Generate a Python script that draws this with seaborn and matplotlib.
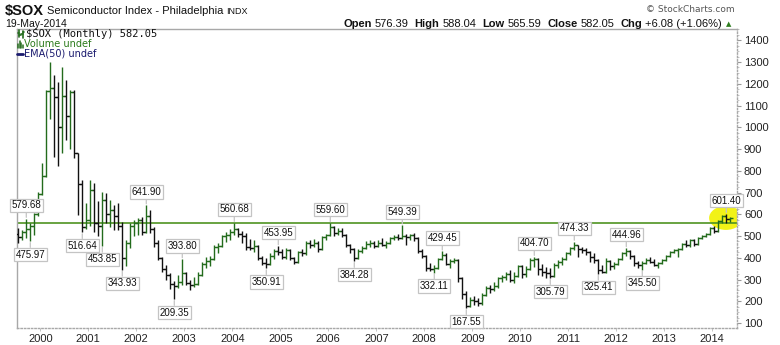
import numpy as np
import pandas as pd
import matplotlib
matplotlib.use("Agg")
import matplotlib.pyplot as plt
import seaborn as sns
from matplotlib.patches import Ellipse
from matplotlib.lines import Line2D
from matplotlib.ticker import MultipleLocator

# ---------------- data (monthly OHLC, Jul-1999 .. May-2014) ----------------
start_month = "1999-07"
opens = [
    510, 495, 520, 530, 545, 600,
    695, 775, 1165, 1180, 1140, 1000, 1145, 1050, 1160, 880, 740, 540,
    575, 710, 560, 545, 665, 600, 620, 590, 545, 400, 470, 545,
    560, 575, 520, 590, 530, 470, 400, 350, 320, 280, 270, 290,
    330, 285, 275, 280, 320, 370, 385, 395, 450, 455, 500, 505,
    520, 530, 510, 500, 450, 445, 455, 400, 375, 370, 410, 430,
    425, 405, 435, 400, 380, 425, 420, 470, 460, 470, 440, 495,
    505, 540, 515, 525, 505, 460, 440, 400, 430, 445, 465, 470,
    455, 470, 460, 470, 490, 495, 490, 500, 495, 505, 490, 430,
    410, 355, 350, 355, 395, 415, 370, 385, 390, 305, 235, 180,
    205, 200, 190, 230, 260, 255, 270, 305, 310, 325, 300, 315,
    360, 325, 350, 390, 395, 350, 335, 330, 315, 365, 380, 395,
    420, 445, 460, 440, 435, 425, 405, 390, 345, 335, 385, 360,
    370, 395, 420, 430, 410, 375, 365, 375, 390, 380, 365, 375,
    390, 410, 425, 435, 440, 465, 460, 480, 465, 490, 500, 510,
    535, 525, 570, 590, 576.39,
]
highs = [
    536, 528, 579.68, 560, 605, 704,
    835, 1172, 1302, 1241, 1210, 1279, 1218, 1172, 1172, 880, 758, 650,
    758, 743, 660, 704, 697, 666, 643, 650, 566, 480, 560, 575,
    585, 589, 641.90, 620, 540, 480, 405, 367, 330, 292, 320, 393.80,
    335, 300, 310, 336, 382, 405, 410, 459, 470, 505, 520, 530,
    560.68, 535, 525, 513, 485, 480, 460, 410, 400, 420, 440, 453.95,
    440, 445, 440, 405, 430, 440, 475, 480, 485, 475, 500, 510,
    559.60, 545, 535, 535, 510, 465, 445, 440, 455, 475, 480, 475,
    480, 490, 475, 495, 505, 510, 549.39, 510, 510, 515, 495, 440,
    415, 375, 365, 400, 429.45, 420, 395, 400, 395, 310, 245, 221,
    225, 215, 240, 270, 275, 290, 310, 320, 335, 344, 336, 367,
    367, 360, 398, 404.70, 400, 370, 359, 352, 374, 390, 405, 428,
    451, 474.33, 460, 450, 444, 430, 421, 395, 367, 398, 390, 380,
    400, 425, 444.96, 435, 415, 385, 385, 400, 405, 395, 380, 395,
    415, 430, 440, 445, 470, 482, 485, 485, 495, 505, 515, 540,
    545, 575, 595, 601.40, 588.04,
]
lows = [
    467, 482, 492, 475.97, 505, 590,
    690, 770, 1040, 865, 820, 880, 940, 900, 857, 597, 516.64, 530,
    545, 520, 500, 453.85, 559, 543, 528, 528, 343.93, 360, 445, 500,
    505, 505, 515, 515, 450, 390, 336, 298, 255, 209.35, 262, 275,
    275, 252, 265, 275, 318, 352, 360, 390, 421, 451, 474, 482,
    505, 497, 470, 436, 436, 425, 390, 365, 350.91, 365, 395, 415,
    395, 395, 390, 370, 375, 410, 415, 445, 450, 425, 435, 480,
    500, 500, 505, 495, 450, 420, 384.28, 395, 420, 440, 450, 445,
    450, 455, 445, 465, 480, 480, 485, 460, 480, 475, 420, 400,
    340, 340, 332.11, 350, 390, 365, 355, 375, 290, 210, 167.55, 175,
    185, 180, 185, 225, 240, 245, 260, 290, 298, 290, 283, 313,
    306, 310, 344, 359, 321, 315, 306, 305.79, 312, 352, 367, 390,
    413, 436, 405, 421, 413, 382, 375, 325.41, 328, 330, 345, 350,
    365, 390, 410, 395, 360, 355, 345.50, 370, 375, 360, 355, 370,
    385, 405, 420, 405, 435, 450, 448, 455, 460, 485, 495, 505,
    515, 520, 560, 560, 565.59,
]
closes = [
    495, 520, 530, 545, 600, 695,
    775, 1165, 1180, 1140, 1000, 1145, 1050, 1160, 880, 740, 540, 575,
    710, 560, 545, 665, 600, 620, 590, 545, 400, 470, 545, 560,
    575, 520, 590, 530, 470, 400, 350, 320, 280, 270, 290, 330,
    285, 275, 280, 320, 370, 385, 395, 450, 455, 500, 505, 520,
    530, 510, 500, 450, 445, 455, 400, 375, 370, 410, 430, 425,
    405, 435, 400, 380, 425, 420, 470, 460, 470, 440, 495, 505,
    540, 515, 525, 505, 460, 440, 400, 430, 445, 465, 470, 455,
    470, 460, 470, 490, 495, 490, 500, 495, 505, 490, 430, 410,
    355, 350, 355, 395, 415, 370, 385, 390, 305, 235, 180, 205,
    200, 190, 230, 260, 255, 270, 305, 310, 325, 300, 315, 360,
    325, 350, 390, 395, 350, 335, 330, 315, 365, 380, 395, 420,
    445, 460, 440, 435, 425, 405, 390, 345, 335, 385, 360, 370,
    395, 420, 430, 410, 375, 365, 375, 390, 380, 365, 375, 390,
    410, 425, 435, 440, 465, 460, 480, 465, 490, 500, 510, 535,
    525, 570, 590, 575.97, 582.05,
]
# annotated swing points: (month, value, side)
swing_months = ["1999-09", "1999-10", "2000-11", "2001-04", "2001-09", "2002-03",
                "2002-10", "2002-12", "2004-01", "2004-09", "2004-12", "2006-01",
                "2006-07", "2007-07", "2008-03", "2008-05", "2008-11", "2010-04",
                "2010-08", "2011-02", "2011-08", "2012-03", "2012-07", "2014-04"]
swing_values = [579.68, 475.97, 516.64, 453.85, 343.93, 641.90,
                209.35, 393.80, 560.68, 350.91, 453.95, 559.60,
                384.28, 549.39, 332.11, 429.45, 167.55, 404.70,
                305.79, 474.33, 325.41, 444.96, 345.50, 601.40]
swing_sides = ["high", "low", "low", "low", "low", "high",
               "low", "high", "high", "low", "high", "high",
               "low", "high", "low", "high", "low", "high",
               "low", "high", "low", "high", "low", "high"]
resistance_level = 562
year_labels = list(range(2000, 2015))
price_ticks = list(range(100, 1500, 100))
highlight_months = ["2014-01", "2014-05"]
highlight_band = [528, 638]

# ---------------- style ----------------
sns.set_theme(style="white")
plt.rcParams["font.family"] = ["DejaVu Sans"]

W, H = 780, 345
fig = plt.figure(figsize=(W / 100, H / 100), dpi=100)
fig.patch.set_facecolor("white")

left_px, right_px, top_px, bot_px = 17, 737, 29, 328
ax = fig.add_axes([left_px / W, 1 - bot_px / H, (right_px - left_px) / W, (bot_px - top_px) / H])
ax.set_facecolor("white")

months = pd.period_range(start_month, periods=len(closes), freq="M")
df = pd.DataFrame({"month": months, "open": opens, "high": highs,
                   "low": lows, "close": closes})
df["x"] = np.arange(len(df))
prev = df["close"].shift(1).fillna(df["open"])
UP, DOWN = "#236b1c", "#111111"
df["color"] = np.where(df["close"] >= prev, UP, DOWN)

def idx(m):
    return int(np.where(months == pd.Period(m, freq="M"))[0][0])

# highlight ellipse (under bars)
h0, h1 = idx(highlight_months[0]), idx(highlight_months[1])
ell = Ellipse(((h0 + h1) / 2 + 0.9, sum(highlight_band) / 2), width=(h1 - h0) + 4.4,
              height=highlight_band[1] - highlight_band[0], facecolor="#f2f20a",
              edgecolor="none", alpha=0.95, zorder=1)
ax.add_patch(ell)

# resistance line
ax.axhline(resistance_level, color="#4f9421", lw=1.2, zorder=2)

# OHLC bars
lw = 1.0
ax.vlines(df["x"], df["low"], df["high"], colors=df["color"], lw=lw, zorder=3)
ax.hlines(df["open"], df["x"] - 0.55, df["x"], colors=df["color"], lw=lw, zorder=3)
ax.hlines(df["close"], df["x"], df["x"] + 0.55, colors=df["color"], lw=lw, zorder=3)

# swing labels
for m, v, side in zip(swing_months, swing_values, swing_sides):
    i = idx(m)
    off = 6 if side == "high" else -6
    ax.annotate(f"{v:.2f}", xy=(i, v), xytext=(0, off), textcoords="offset points",
                ha="center", va="bottom" if side == "high" else "top",
                fontsize=7, family="Liberation Sans", color="#111111",
                bbox=dict(boxstyle="square,pad=0.18", fc="white", ec="#c4c4c4", lw=0.9),
                arrowprops=dict(arrowstyle="-", color="#c4c4c4", lw=0.9,
                                shrinkA=0, shrinkB=1), zorder=5)

# axes limits / ticks
x_left = -(18.3 - left_px) / 4.0
x_right = (right_px - 18.3) / 4.0
ax.set_xlim(x_left, x_right)
ax.set_ylim(77, 1452)

ax.yaxis.tick_right()
ax.set_yticks(price_ticks)
ax.set_yticklabels([str(t) for t in price_ticks], fontsize=8, family="Liberation Sans",
                   color="#222222")
ax.yaxis.set_minor_locator(MultipleLocator(25))
ax.tick_params(axis="y", which="major", length=3, width=0.8, color="#999999", pad=2,
               right=True, left=False)
ax.tick_params(axis="y", which="minor", length=1.5, width=0.6, color="#bbbbbb",
               right=True, left=False)

xt = [idx(f"{y}-01") - 0.5 for y in year_labels]
ax.set_xticks(xt)
ax.set_xticklabels([str(y) for y in year_labels], fontsize=8, family="Liberation Sans",
                   color="#222222")
ax.tick_params(axis="x", length=2, width=0.6, color="#bbbbbb", pad=2, bottom=True)

for s in ["left", "top"]:
    ax.spines[s].set_color("#a8a8a8")
    ax.spines[s].set_linewidth(1.0)
for s in ["right", "bottom"]:
    ax.spines[s].set_color("#a8a8a8")
    ax.spines[s].set_linewidth(1.0)
    ax.spines[s].set_linestyle((0, (1, 1.5)))
ax.grid(False)

# ---------------- header texts ----------------
renderer = fig.canvas.get_renderer()

def seq(pieces, x_px, y_px, align="left"):
    arts = []
    for s, kw, gap in pieces:
        t = fig.text(0, 1 - y_px / H, s, va="center", ha="left", **kw)
        w = t.get_window_extent(renderer).width
        arts.append((t, w, gap))
    total = sum(w + g for _, w, g in arts) - arts[-1][2]
    cur = x_px - total if align == "right" else x_px
    for t, w, g in arts:
        t.set_x(cur / W)
        cur += w + g

B = dict(family="Liberation Sans", fontsize=8, fontweight="bold", color="#111111")
N = dict(family="Liberation Sans", fontsize=8, color="#111111")

seq([("\\$SOX", dict(family="Liberation Sans", fontsize=10.5, fontweight="bold", color="#111111"), 3),
     ("Semiconductor Index - Philadelphia", dict(family="Liberation Sans", fontsize=8, color="#111111"), 3),
     ("INDX", dict(family="Liberation Sans", fontsize=6.5, color="#111111"), 0)],
    5, 11)
fig.text(5 / W, 1 - 24 / H, "19-May-2014", family="Liberation Sans", fontsize=7.5,
         color="#111111", va="center", ha="left")
fig.text(735 / W, 1 - 9 / H, "\u00a9 StockCharts.com", family="DejaVu Sans", fontsize=6.5,
         color="#555555", va="center", ha="right")
seq([("Open", B, 3), ("576.39", N, 6), ("High", B, 3), ("588.04", N, 6),
     ("Low", B, 3), ("565.59", N, 6), ("Close", B, 3), ("582.05", N, 6),
     ("Chg", B, 3), ("+6.08 (+1.06%)", N, 4),
     ("\u25b2", dict(family="DejaVu Sans", fontsize=5, color="#2e7d1e"), 0)],
    731, 24, align="right")

# legend block inside the chart
fig.text(26 / W, 1 - 34 / H, "\\$SOX (Monthly) 582.05", family="DejaVu Sans Mono",
         fontsize=7.5, color="#111111", va="center", ha="left")
fig.text(24 / W, 1 - 44 / H, "Volume undef", family="DejaVu Sans", fontsize=7,
         color="#2a7a1a", va="center", ha="left")
fig.text(24 / W, 1 - 54 / H, "EMA(50) undef", family="DejaVu Sans", fontsize=7,
         color="#1a1a6e", va="center", ha="left")

def px_line(x0, y0, x1, y1, c, lw=1.2):
    fig.add_artist(Line2D([x0 / W, x1 / W], [1 - y0 / H, 1 - y1 / H], color=c, lw=lw,
                          transform=fig.transFigure))

# tiny icons
px_line(19, 30, 19, 37, UP); px_line(17.5, 33, 19, 33, UP); px_line(19, 35, 20.5, 35, UP)
px_line(22.5, 31, 22.5, 38, UP); px_line(21, 34, 22.5, 34, UP); px_line(22.5, 32, 24, 32, UP)
for xx, hh in [(18, 4), (19.5, 7), (21, 5), (22.5, 3)]:
    px_line(xx, 48, xx, 48 - hh, UP, lw=1.1)
px_line(17, 54, 23, 54, "#1a1a6e", lw=2)

fig.savefig("out.png", dpi=100, facecolor="white")
